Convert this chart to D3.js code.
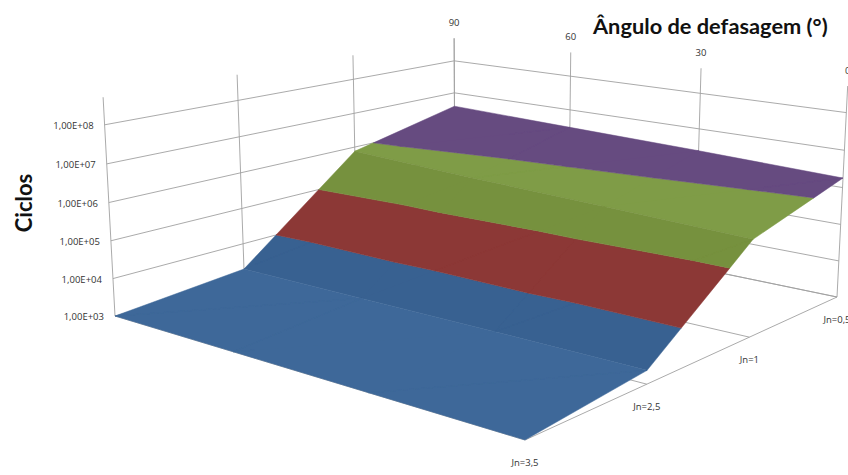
<!DOCTYPE html>
<html>
<head>
<meta charset="utf-8">
<script src="https://cdn.jsdelivr.net/npm/d3@7"></script>
<style>
html,body{margin:0;padding:0;background:#fff;overflow:hidden}
svg{display:block}
text{fill:#333}
</style>
</head>
<body>
<svg id="chart" width="848" height="475"></svg>
<script>
// Fatigue life surface: cycles by load ratio and phase angle
const angles = [90, 60, 30, 0];
const loadLabels = ["Jn=3,5", "Jn=2,5", "Jn=1", "Jn=0,5"];
const cycleTicks = [1e3, 1e4, 1e5, 1e6, 1e7, 1e8];
const tickLabels = ["1,00E+03", "1,00E+04", "1,00E+05", "1,00E+06", "1,00E+07", "1,00E+08"];

const cyclesJn35 = [1000, 1000, 1000, 1000];
const cyclesJn25 = [1900, 2000, 2100, 2150];
const cyclesJn1 = [750000, 540000, 420000, 320000];
const cyclesJn05 = [3800000, 3000000, 2400000, 1800000];
const cycleRows = [cyclesJn35, cyclesJn25, cyclesJn1, cyclesJn05];

// One band per decade of cycles; shade depends on which slope segment it lies on
const bandEdges = [1e3, 1e4, 1e5, 1e6, 1e9];
const bandShades = [
  ["#3e6899", "#386191", "#386191"],
  ["#8c3836", "#8c3836", "#8c3836"],
  ["#7f9c47", "#76913e", "#7f9c47"],
  ["#664b80", "#664b80", "#664b80"]
];

const axisTop = 5e8;
const gridColor = "#a0a0a0";

// Axis scales onto the unit cube of the plot box
const uScale = d3.scalePoint().domain(angles).range([0, 1]);
const vScale = d3.scalePoint().domain(loadLabels).range([0, 1]);
const tScale = d3.scaleLog().domain([1e3, 1e8]).range([0, 1]);

// Perspective camera calibrated on the corners of the plot box
const floorFrontLeft = [115, 316];
const floorFrontRight = [525, 440];
const floorBackRight = [837, 297];
const floorBackLeft = [455, 218];
const ceilingFrontLeft = [104, 124];
const ceilingBackLeft = [455, 62];
const ceilingBackRight = [846, 112];

function makeCamera(A, B, E, C, ceiling) {
  const dx1 = B[0] - E[0], dx2 = C[0] - E[0], sx = A[0] - B[0] + E[0] - C[0];
  const dy1 = B[1] - E[1], dy2 = C[1] - E[1], sy = A[1] - B[1] + E[1] - C[1];
  const det = dx1 * dy2 - dx2 * dy1;
  const g = (sx * dy2 - dx2 * sy) / det;
  const h = (dx1 * sy - sx * dy1) / det;
  const a = B[0] - A[0] + g * B[0], b = C[0] - A[0] + h * C[0], c = A[0];
  const d = B[1] - A[1] + g * B[1], e = C[1] - A[1] + h * C[1], f = A[1];
  // Least-squares fit of the vertical column of the camera matrix
  const rows = ceiling.map(({ at: [u, v], to: [x, y] }) => {
    const w = g * u + h * v + 1;
    return { x, y, rx: x * w - (a * u + b * v + c), ry: y * w - (d * u + e * v + f) };
  });
  const mx = d3.mean(rows, o => o.x), my = d3.mean(rows, o => o.y);
  const mrx = d3.mean(rows, o => o.rx), mry = d3.mean(rows, o => o.ry);
  const cov = d3.sum(rows, o => (o.x - mx) * (o.rx - mrx) + (o.y - my) * (o.ry - mry));
  const vari = d3.sum(rows, o => (o.x - mx) ** 2 + (o.y - my) ** 2);
  const r = -cov / vari;
  const p = mrx + r * mx, q = mry + r * my;
  return (u, v, t) => {
    const w = g * u + h * v + r * t + 1;
    return [(a * u + b * v + p * t + c) / w, (d * u + e * v + q * t + f) / w];
  };
}
const project = makeCamera(floorFrontLeft, floorFrontRight, floorBackRight, floorBackLeft, [
  { at: [0, 0], to: ceilingFrontLeft },
  { at: [0, 1], to: ceilingBackLeft },
  { at: [1, 1], to: ceilingBackRight }
]);

const svg = d3.select("#chart");
const line = d3.line();
const tTop = tScale(axisTop);

// Walls and floor grid
const grid = svg.append("g").attr("fill", "none").attr("stroke", gridColor).attr("stroke-width", 0.9);
function seg(p, q) { grid.append("path").attr("d", line([project(...p), project(...q)])); }

loadLabels.forEach(l => { const v = vScale(l); seg([0, v, 0], [0, v, tTop]); });
angles.forEach(a => { const u = uScale(a); seg([u, 1, 0], [u, 1, tTop]); });
cycleTicks.forEach(c => {
  const t = tScale(c);
  seg([0, 0, t], [0, 1, t]);
  seg([0, 1, t], [1, 1, t]);
});
loadLabels.forEach(l => { const v = vScale(l); seg([0, v, 0], [1, v, 0]); });
seg([1, 0, 0], [1, 1, 0]);

// Clip a polygon of [u, v, t] vertices to a range of t
function clipAbove(poly, level, keepAbove) {
  const out = [];
  poly.forEach((P, i) => {
    const Q = poly[(i + 1) % poly.length];
    const pin = keepAbove ? P[2] >= level : P[2] <= level;
    const qin = keepAbove ? Q[2] >= level : Q[2] <= level;
    if (pin) out.push(P);
    if (pin !== qin) {
      const k = (level - P[2]) / (Q[2] - P[2]);
      out.push([P[0] + k * (Q[0] - P[0]), P[1] + k * (Q[1] - P[1]), level]);
    }
  });
  return out;
}

// Surface, painted back to front; facets of one colour share a single path
const surface = svg.append("g");
const uOf = i => uScale(angles[i]);
const vOf = j => vScale(loadLabels[j]);
const vert = (i, j) => [uOf(i), vOf(j), tScale(cycleRows[j][i])];

d3.range(loadLabels.length - 2, -1, -1).forEach(j => {
  bandShades.forEach((shades, b) => {
    let d = "";
    d3.range(angles.length - 1).forEach(i => {
      [
        [vert(i, j), vert(i + 1, j), vert(i + 1, j + 1)],
        [vert(i, j), vert(i + 1, j + 1), vert(i, j + 1)]
      ].forEach(tri => {
        let poly = clipAbove(tri, tScale(bandEdges[b]), true);
        if (poly.length) poly = clipAbove(poly, tScale(bandEdges[b + 1]), false);
        if (poly.length >= 3) d += line(poly.map(P => project(...P))) + "Z";
      });
    });
    if (d) surface.append("path").attr("d", d)
      .attr("fill", shades[j]).attr("stroke", shades[j]).attr("stroke-width", 0.5);
  });
});

// Axis labels
const tickFont = "'Open Sans', sans-serif";
cycleTicks.forEach((c, i) => {
  const P = project(0, 0, tScale(c));
  svg.append("text").attr("x", P[0] - 11).attr("y", P[1] + 4)
    .attr("text-anchor", "end").attr("font-family", tickFont).attr("font-size", 9.5)
    .text(tickLabels[i]);
});
angles.forEach(a => {
  const P = project(uScale(a), 1, tTop);
  svg.append("text").attr("x", P[0]).attr("y", P[1] - 12)
    .attr("text-anchor", "middle").attr("font-family", tickFont).attr("font-size", 9.5)
    .text(a);
});
loadLabels.forEach(l => {
  const P = project(1, vScale(l), 0);
  svg.append("text").attr("x", P[0]).attr("y", P[1] + 26)
    .attr("text-anchor", "middle").attr("font-family", tickFont).attr("font-size", 9.5)
    .text(l);
});

// Axis titles
svg.append("text").attr("x", 593).attr("y", 34)
  .attr("font-family", "Lato, sans-serif").attr("font-weight", 700).attr("font-size", 21.8)
  .style("fill", "#111").text("Ângulo de defasagem (°)");
svg.append("text").attr("transform", "translate(32,203) rotate(-90)")
  .attr("text-anchor", "middle")
  .attr("font-family", "Lato, sans-serif").attr("font-weight", 700).attr("font-size", 22)
  .style("fill", "#111").text("Ciclos");
</script>
</body>
</html>
